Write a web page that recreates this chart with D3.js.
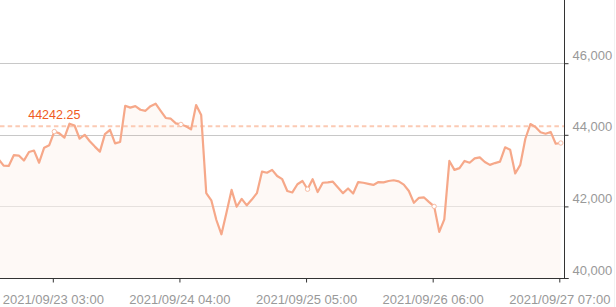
<!DOCTYPE html>
<html>
<head>
<meta charset="utf-8">
<script src="https://cdn.jsdelivr.net/npm/d3@7"></script>
<style>
  body { margin: 0; background: #fff; }
  svg { display: block; font-family: "Liberation Sans", Arial, sans-serif; }
</style>
</head>
<body>
<div id="chart"></div>
<script>
const startHour = new Date(2021, 8, 22, 16);
const tickLabels = ["2021/09/23 03:00", "2021/09/24 04:00", "2021/09/25 05:00", "2021/09/26 06:00", "2021/09/27 07:00"];
const yTicks = [40000, 42000, 44000, 46000];
const refPrice = 44242.25;
const prices = [
  43320, 43140, 43130, 43430, 43420, 43280, 43520, 43560, 43220, 43640,
  43710, 44090, 44040, 43920, 44310, 44260, 43890, 44000, 43820, 43670,
  43530, 44020, 44140, 43760, 43800, 44810, 44760, 44800, 44700, 44670,
  44800, 44870, 44670, 44470, 44450, 44320, 44290, 44240, 44150, 44830,
  44550, 42370, 42170, 41620, 41220, 41830, 42460, 41990, 42210, 42030,
  42190, 42370, 42970, 42940, 43020, 42850, 42760, 42430, 42390, 42620,
  42710, 42480, 42760, 42400, 42660, 42670, 42690, 42530, 42370, 42500,
  42360, 42680, 42660, 42630, 42600, 42680, 42670, 42710, 42730, 42700,
  42610, 42430, 42100, 42240, 42250, 42120, 42000, 41290, 41640, 43270,
  43020, 43070, 43270, 43220, 43340, 43370, 43240, 43160, 43210, 43250,
  43650, 43580, 42920, 43160, 43890, 44300, 44220, 44070, 44030, 44080,
  43750, 43770
];

const w = 616;
const h = 307;
const axisY = 278;
const axisX = 564.5;

const times = prices.map((d, i) => d3.timeHour.offset(startHour, i));
const parseTick = d3.timeParse("%Y/%m/%d %H:%M");
const tickTimes = tickLabels.map(parseTick);

const xScale = d3.scaleTime()
  .domain([tickTimes[0], tickTimes[tickTimes.length - 1]])
  .range([54.3, 560.8]);

const yScale = d3.scaleLinear()
  .domain([40000, 48000])
  .range([axisY, -8.4]);

const svg = d3.select("#chart")
  .append("svg")
  .attr("width", w)
  .attr("height", h);

// grid lines
const gridColors = { 42000: "#e6e6e6", 44000: "#c8c8c8", 46000: "#c8c8c8" };
svg.selectAll(".grid")
  .data(yTicks.filter(d => d > 40000))
  .enter()
  .append("line")
  .attr("class", "grid")
  .attr("x1", 0)
  .attr("x2", axisX)
  .attr("y1", d => Math.round(yScale(d)) + 0.5)
  .attr("y2", d => Math.round(yScale(d)) + 0.5)
  .attr("stroke", d => gridColors[d]);

svg.append("line")
  .attr("x1", 614.5).attr("x2", 614.5)
  .attr("y1", 0).attr("y2", h)
  .attr("stroke", "#f2f2f2");

// area + line
const area = d3.area()
  .x((d, i) => xScale(times[i]))
  .y0(axisY)
  .y1(d => yScale(d));

const line = d3.line()
  .x((d, i) => xScale(times[i]))
  .y(d => yScale(d));

svg.append("path")
  .datum(prices)
  .attr("d", area)
  .attr("fill", "#f5a07e")
  .attr("fill-opacity", 0.065);

// reference dashed line
svg.append("line")
  .attr("x1", 0)
  .attr("x2", axisX)
  .attr("y1", yScale(refPrice))
  .attr("y2", yScale(refPrice))
  .attr("stroke", "#fbcab4")
  .attr("stroke-width", 2)
  .attr("stroke-dasharray", "4.5,3.2");

svg.append("text")
  .attr("x", xScale(tickTimes[0]))
  .attr("y", yScale(refPrice) - 7)
  .attr("text-anchor", "middle")
  .attr("fill", "#f05a22")
  .style("font-size", "12.5px")
  .text(d3.format(".2f")(refPrice));

svg.append("path")
  .datum(prices)
  .attr("d", line)
  .attr("fill", "none")
  .attr("stroke", "#f6a889")
  .attr("stroke-width", 2.2)
  .attr("stroke-linejoin", "round");

// hollow markers at label positions
const markIdx = times.map((t, i) => i).filter(i => tickTimes.some(t => +t === +times[i]));
svg.selectAll(".mark")
  .data(markIdx)
  .enter()
  .append("circle")
  .attr("class", "mark")
  .attr("cx", i => xScale(times[i]))
  .attr("cy", i => yScale(prices[i]))
  .attr("r", 2.2)
  .attr("fill", "#fff")
  .attr("stroke", "#f8bca4")
  .attr("stroke-width", 1);

// x axis
const xAxis = d3.axisBottom(xScale)
  .tickValues(tickTimes)
  .tickFormat(d3.timeFormat("%Y/%m/%d %H:%M"))
  .tickSize(4)
  .tickSizeOuter(0)
  .tickPadding(12);

const gx = svg.append("g")
  .attr("transform", "translate(-1.5," + (axisY + 0.5) + ")")
  .call(xAxis);
gx.select(".domain").remove();
gx.selectAll(".tick line").attr("stroke", "#333");
gx.selectAll("text")
  .attr("fill", "#999")
  .style("font-size", "13px")
  .style("font-family", "Liberation Sans, Arial, sans-serif");

svg.append("line")
  .attr("x1", 0)
  .attr("x2", axisX + 4)
  .attr("y1", axisY + 0.5)
  .attr("y2", axisY + 0.5)
  .attr("stroke", "#333");

// y axis on the right
const yAxis = d3.axisRight(yScale)
  .tickValues(yTicks)
  .tickFormat(d3.format(","))
  .tickSize(4)
  .tickSizeOuter(0)
  .tickPadding(4);

const gy = svg.append("g")
  .attr("transform", "translate(" + axisX + ",0)")
  .call(yAxis);
gy.select(".domain").remove();
gy.selectAll(".tick line").attr("stroke", "#333");
gy.selectAll("text")
  .attr("fill", "#999")
  .attr("dy", "-0.3em")
  .style("font-size", "13px")
  .style("font-family", "Liberation Sans, Arial, sans-serif");

svg.append("line")
  .attr("x1", axisX)
  .attr("x2", axisX)
  .attr("y1", 0)
  .attr("y2", axisY + 1)
  .attr("stroke", "#333");
</script>
</body>
</html>
